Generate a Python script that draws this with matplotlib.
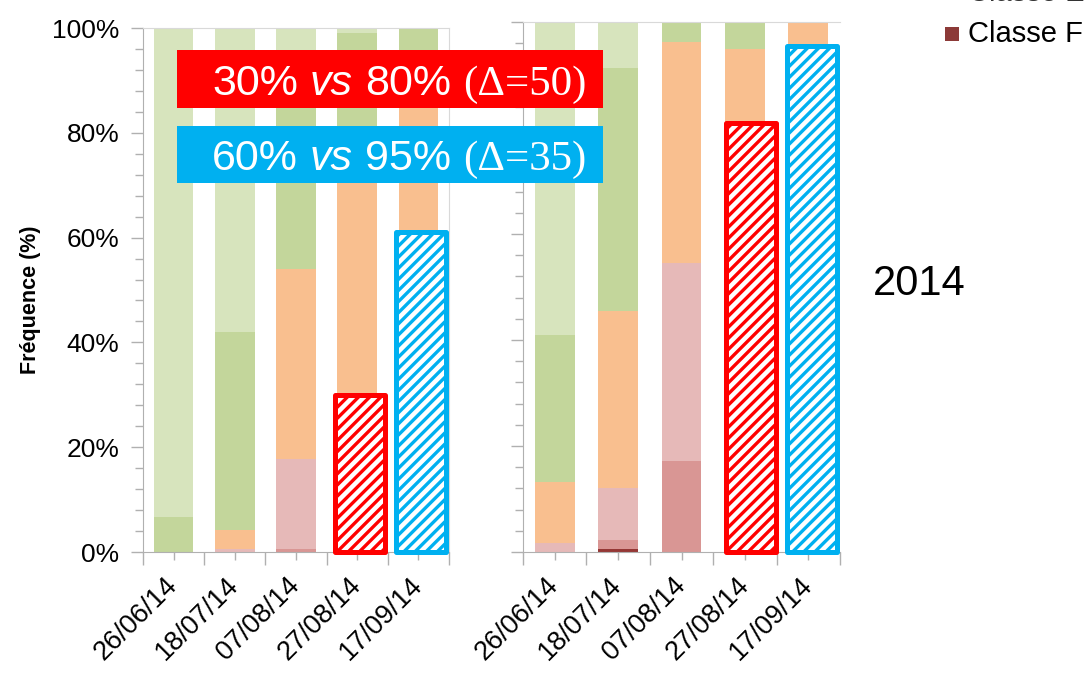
import matplotlib
matplotlib.use("Agg")
import matplotlib.pyplot as plt
import matplotlib.transforms as mtransforms
from matplotlib.patches import Rectangle
from matplotlib.ticker import MultipleLocator
import numpy as np

plt.rcParams['font.family'] = ['Liberation Sans', 'DejaVu Sans']
plt.rcParams['hatch.linewidth'] = 2.4

W, H = 1090, 675

dates = ['26/06/14', '18/07/14', '07/08/14', '27/08/14', '17/09/14']
class_names = ['Classe F', 'Classe E', 'Classe D', 'Classe C', 'Classe B', 'Classe A']
class_colors = ['#953735', '#D99694', '#E6B9B8', '#F9BF8F', '#C3D69B', '#D7E4BD']

# left panel, % per class (bottom -> top)
left_F = [0, 0, 0, 0, 0]
left_E = [0, 0, 0.6, 0, 0]
left_D = [0, 0.6, 17.2, 5, 2]
left_C = [0, 3.6, 36.2, 73, 88]
left_B = [6.7, 37.8, 38, 21, 10]
left_A = [93.3, 58, 8, 1, 0]

# right panel
right_F = [0, 0.5, 0, 0, 0]
right_E = [0, 1.7, 17.2, 22, 0]
right_D = [1.7, 9.9, 37.3, 18, 0]
right_C = [11.5, 33.4, 41.7, 55, 100]
right_B = [27.8, 45.8, 3.8, 5, 0]
right_A = [59, 8.7, 0, 0, 0]

# highlighted (hatched) bars: 27/08/14 and 17/09/14
hatch_idx = [3, 4]
hatch_left = [30, 61]
hatch_right = [81, 95.5]
hatch_colors = ['#FF0000', '#00B0F0']

box_texts = [('30%', 'vs', '80%', '(\u0394=50)'),
             ('60%', 'vs', '95%', '(\u0394=35)')]

fig = plt.figure(figsize=(W / 100, H / 100), dpi=100)
ax1 = fig.add_axes([143 / W, 1 - 552 / H, 306 / W, 524 / H])
ax2 = fig.add_axes([523 / W, 1 - 552 / H, 317 / W, 530 / H])

spine_col = '#B0B0B0'


def draw_panel(ax, series, bar_w, hatch_vals, hatch_shift, hatch_w, show_right):
    x = np.arange(len(dates))
    bottom = np.zeros(len(dates))
    for vals, col in zip(series, class_colors):
        vals = np.array(vals, dtype=float)
        ax.bar(x, vals, width=bar_w, bottom=bottom, color=col, linewidth=0)
        bottom += vals
    for i, v, c, dx in zip(hatch_idx, hatch_vals, hatch_colors, hatch_shift):
        ax.bar(i + dx, v, width=hatch_w, align='edge', facecolor='white',
               edgecolor=c, hatch='///', linewidth=3.6, joinstyle='round',
               clip_on=False, zorder=4)
    ax.set_xlim(-0.5, len(dates) - 0.5)
    ax.set_ylim(0, 100)
    ax.yaxis.set_major_locator(MultipleLocator(20))
    ax.yaxis.set_minor_locator(MultipleLocator(4))
    ax.set_xticks(np.arange(-0.5, len(dates), 1))
    ax.set_xticklabels([])
    ax.set_xticks(x, minor=True)
    ax.set_xticklabels(dates, minor=True, rotation=45, ha='right', va='center',
                       rotation_mode='anchor', fontsize=19.5)
    ax.tick_params(axis='x', which='major', length=9, color=spine_col, width=1)
    ax.tick_params(axis='x', which='minor', length=6, color=spine_col, width=1, pad=15.5)
    ax.tick_params(axis='y', which='major', length=9, color=spine_col, width=1,
                   labelsize=19, pad=8)
    ax.tick_params(axis='y', which='minor', length=6, color=spine_col, width=1)
    for s in ['left', 'bottom']:
        ax.spines[s].set_color(spine_col)
    ax.spines['top'].set_color('#D9D9D9')
    ax.spines['right'].set_color('#D9D9D9')
    ax.spines['right'].set_visible(show_right)
    off = mtransforms.ScaledTranslation(0, 0, fig.dpi_scale_trans)
    for lab in ax.get_xticklabels(minor=True):
        lab.set_transform(lab.get_transform() + off)


draw_panel(ax1, [left_F, left_E, left_D, left_C, left_B, left_A], 0.65,
           hatch_left, [-0.37, -0.37], 0.82, True)
draw_panel(ax2, [right_F, right_E, right_D, right_C, right_B, right_A], 0.63,
           hatch_right, [-0.30, -0.34], 0.79, False)

ax1.yaxis.set_major_formatter(lambda v, p: f'{v:.0f}%')
ax2.set_yticklabels([])

fig.text(31 / W, 1 - 300 / H, 'Fréquence (%)', rotation=90, ha='center',
         va='center', fontsize=15.5, fontweight='bold')

# coloured comparison boxes
box_y = [(50, 108), (126, 183)]
for (y0, y1), c in zip(box_y, hatch_colors):
    fig.add_artist(Rectangle((177 / W, 1 - y1 / H), (603 - 177) / W, (y1 - y0) / H,
                             transform=fig.transFigure, facecolor=c,
                             edgecolor='none', zorder=5))

fig.canvas.draw()
rend = fig.canvas.get_renderer()
fs = 31
space = 0.278 * fs * 100 / 72
for pieces, base in zip(box_texts, [95, 170]):
    xpix = 212
    styles = [dict(), dict(style='italic'), dict(), dict(family='Liberation Serif')]
    for s, kw in zip(pieces, styles):
        t = fig.text(xpix / W, 1 - base / H, s, color='white', fontsize=fs,
                     va='baseline', ha='left', zorder=6, **kw)
        bb = t.get_window_extent(renderer=rend)
        xpix = bb.x1 + space

fig.text(873 / W, 1 - 295 / H, '2014', fontsize=30, va='baseline', ha='left')

# legend remnants (top right)
fig.add_artist(Rectangle((945 / W, 1 - 41 / H), 14 / W, 14 / H,
                         transform=fig.transFigure, facecolor='#8C3A38',
                         edgecolor='none'))
fig.text(968 / W, 1 - 42 / H, 'Classe F', fontsize=21, va='baseline', ha='left')
fig.text(968 / W, 1 - 1 / H, 'Classe E', fontsize=21, va='baseline', ha='left',
         color='#333333')

fig.savefig('out.png', dpi=100)
